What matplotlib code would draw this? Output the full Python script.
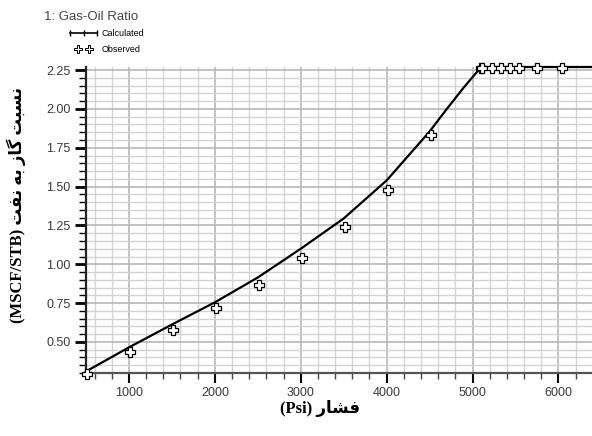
import numpy as np
import matplotlib
matplotlib.use("Agg")
import matplotlib.pyplot as plt
from matplotlib.lines import Line2D
from matplotlib.legend_handler import HandlerLine2D
from matplotlib.ticker import MultipleLocator, FormatStrFormatter

# calculated curve (psia, MSCF/STB)
calc_p = [500, 1000, 1500, 2000, 2500, 3000, 3500, 4000, 4500, 4700, 4900, 5100, 6400]
calc_gor = [0.31, 0.465, 0.612, 0.755, 0.915, 1.10, 1.295, 1.54, 1.855, 2.0, 2.14, 2.27, 2.27]

# observed points
obs_p = [515, 1015, 1515, 2015, 2515, 3015, 3515, 4015, 4515,
         5100, 5115, 5230, 5335, 5440, 5535, 5745, 6045]
obs_gor = [0.295, 0.435, 0.574, 0.72, 0.866, 1.039, 1.237, 1.48, 1.83,
           2.265, 2.265, 2.265, 2.265, 2.265, 2.265, 2.265, 2.265]

# persian labels, written in visual order with presentation forms
fa_feshar = "\uFEAD\uFE8E\uFEB8\uFED3"
fa_nesbat = "\uFE96\uFE92\uFEB4\uFEE7"
fa_gaz = "\uFEAF\uFE8E\uFB94"
fa_be = "\uFEEA\uFE91"
fa_naft = "\uFE96\uFED4\uFEE7"
xlabel = "(Psi) " + fa_feshar
ylabel = "(MSCF/STB) " + " ".join([fa_naft, fa_be, fa_gaz, fa_nesbat])

fig = plt.figure(figsize=(5.92, 4.36), dpi=100)
ax = fig.add_axes([86 / 592, 1 - 373 / 436, 1 - 86 / 592, (373 - 67) / 436])

ax.set_xlim(500, 6390)
ax.set_ylim(0.30, 2.27)

ax.xaxis.set_major_locator(MultipleLocator(1000))
ax.xaxis.set_minor_locator(MultipleLocator(200))
ax.yaxis.set_major_locator(MultipleLocator(0.25))
ax.yaxis.set_minor_locator(MultipleLocator(0.05))
ax.yaxis.set_major_formatter(FormatStrFormatter("%.2f"))

ax.grid(which="minor", color="#d2d2d2", lw=1.0)
ax.grid(which="major", color="#b8b8b8", lw=1.2)
ax.set_axisbelow(True)

for s in ["top", "right"]:
    ax.spines[s].set_visible(False)
ax.spines["left"].set_linewidth(1.6)
ax.spines["bottom"].set_linewidth(1.6)
ax.spines["left"].set_color("#222222")
ax.spines["bottom"].set_color("#555555")

tick_font = ["Liberation Sans Narrow", "Liberation Sans", "DejaVu Sans"]
ax.tick_params(axis="y", which="major", length=8, width=2, color="black", pad=3)
ax.tick_params(axis="y", which="minor", length=5, width=1, color="black")
ax.tick_params(axis="x", which="major", length=7, width=1.5, color="black", pad=3)
ax.tick_params(axis="x", which="minor", length=4, width=1, color="#444444")
for lab in ax.get_xticklabels() + ax.get_yticklabels():
    lab.set_family(tick_font)
    lab.set_fontsize(9)
    lab.set_color("#3a3a3a")

ax.plot(calc_p, calc_gor, color="black", lw=1.6, clip_on=False, zorder=3)
ax.plot(obs_p, obs_gor, ls="none", marker="P", ms=7.5, mfc="white", mec="black",
        mew=0.9, clip_on=False, zorder=4)

label_font = ["Liberation Serif", "DejaVu Sans"]
fig.text(320 / 592, 1 - 408 / 436, xlabel, ha="center", va="center",
         family=label_font, weight="bold", fontsize=12)
fig.text(16 / 592, 1 - 205 / 436, ylabel, ha="center", va="center", rotation=90,
         family=label_font, weight="bold", fontsize=12)

# legend block in the top-left corner
fig.text(44 / 592, 1 - 17 / 436, "1: Gas-Oil Ratio", ha="left", va="center",
         family=tick_font, fontsize=9.5, color="#444444")
h_calc = Line2D([], [], color="black", lw=1.2, marker="|", ms=5, mew=1)
h_obs = Line2D([], [], ls="none", marker="P", ms=5.5, mfc="white", mec="black", mew=0.7)
leg = fig.legend([h_calc, h_obs], ["Calculated", "Observed"], loc="upper left",
                 bbox_to_anchor=(70 / 592, 1 - 29 / 436), frameon=False,
                 prop={"family": tick_font, "size": 6.5}, handlelength=3.0,
                 labelspacing=0.8, handletextpad=0.5,
                 borderaxespad=0, borderpad=0,
                 handler_map={h_calc: HandlerLine2D(numpoints=3, marker_pad=0.0),
                              h_obs: HandlerLine2D(numpoints=2, marker_pad=0.9)})

fig.savefig("out.png", dpi=100)
